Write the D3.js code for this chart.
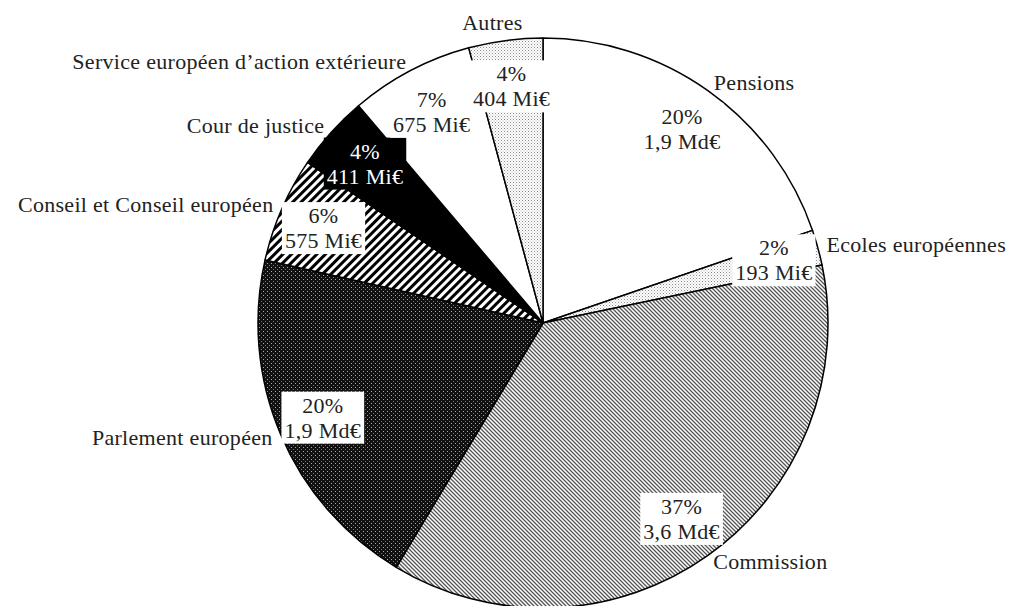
<!DOCTYPE html>
<html>
<head>
<meta charset="utf-8">
<script src="https://cdn.jsdelivr.net/npm/d3@7"></script>
<style>
  body { margin: 0; background: #fff; }
  text { font-family: "Liberation Serif", serif; font-size: 22px; letter-spacing: 0.3px; fill: #222; }
</style>
</head>
<body>
<div id="chart"></div>
<script>
// budget by institution, in Mi€
const categories = ["Pensions", "Ecoles européennes", "Commission", "Parlement européen",
  "Conseil et Conseil européen", "Cour de justice", "Service européen d’action extérieure", "Autres"];
const amounts = [1900, 193, 3550, 1920, 575, 411, 675, 404];
const pctLabels = ["20%", "2%", "37%", "20%", "6%", "4%", "7%", "4%"];
const amountLabels = ["1,9 Md€", "193 Mi€", "3,6 Md€", "1,9 Md€", "575 Mi€", "411 Mi€", "675 Mi€", "404 Mi€"];

const width = 1013;
const height = 606;
const radius = 285;
const cx = 543, cy = 323;

const fills = ["#fff", "url(#dots)", "url(#fine)", "url(#darkdots)", "url(#wide)", "#000", "#fff", "url(#dots)"];

const svg = d3.select("#chart")
  .append("svg")
  .attr("width", width)
  .attr("height", height);

const defs = svg.append("defs");

// light stipple
const dots = defs.append("pattern").attr("id", "dots")
  .attr("patternUnits", "userSpaceOnUse").attr("width", 3).attr("height", 3);
dots.append("rect").attr("width", 3).attr("height", 3).attr("fill", "#fff");
dots.append("rect").attr("width", 1).attr("height", 1).attr("fill", "#8a8a8a");
dots.append("rect").attr("x", 1.5).attr("y", 1.5).attr("width", 1).attr("height", 1).attr("fill", "#b0b0b0");

// fine "\" hatch
const fine = defs.append("pattern").attr("id", "fine")
  .attr("patternUnits", "userSpaceOnUse").attr("width", 4).attr("height", 4);
fine.append("rect").attr("width", 4).attr("height", 4).attr("fill", "#fff");
fine.append("path").attr("d", "M-1,-1L5,5M-1,3L1,5M3,-1L5,1")
  .attr("stroke", "#555").attr("stroke-width", 1.3);

// dark background with light dots
const darkdots = defs.append("pattern").attr("id", "darkdots")
  .attr("patternUnits", "userSpaceOnUse").attr("width", 4).attr("height", 4);
darkdots.append("rect").attr("width", 4).attr("height", 4).attr("fill", "#111");
darkdots.append("rect").attr("width", 1).attr("height", 1).attr("fill", "#aaa");
darkdots.append("rect").attr("x", 2).attr("y", 2).attr("width", 1).attr("height", 1).attr("fill", "#777");

// wide "/" hatch
const wide = defs.append("pattern").attr("id", "wide")
  .attr("patternUnits", "userSpaceOnUse").attr("width", 6).attr("height", 6)
  .attr("patternTransform", "rotate(45)");
wide.append("rect").attr("width", 6).attr("height", 6).attr("fill", "#fff");
wide.append("rect").attr("width", 3).attr("height", 6).attr("fill", "#000");

const g = svg.append("g")
  .attr("transform", `translate(${cx},${cy})`);

const pie = d3.pie().sort(null).value(d => d)
  .startAngle(0).endAngle(2 * Math.PI);
const arcs = pie(amounts);

const arc = d3.arc().innerRadius(0).outerRadius(radius);

g.selectAll(".slice")
  .data(arcs)
  .enter().append("path")
  .attr("class", "slice")
  .attr("d", arc)
  .attr("fill", (d, i) => fills[i])
  .attr("stroke", "#000")
  .attr("stroke-width", 1.5)
  .attr("stroke-linejoin", "round");

function polar(a, r) {
  return [r * Math.sin(a), -r * Math.cos(a)];
}
const mid = d => (d.startAngle + d.endAngle) / 2;

// inner labels (percent + amount on a box)
const inner = g.selectAll(".inner")
  .data(arcs)
  .enter().append("g")
  .attr("class", "inner")
  .attr("transform", d => `translate(${polar(mid(d), radius * 0.84)})`);

inner.append("rect");

inner.append("text")
  .attr("text-anchor", "middle")
  .attr("y", -12)
  .attr("dy", "0.35em")
  .style("fill", (d, i) => i === 5 ? "#fff" : "#222")
  .text((d, i) => pctLabels[i]);

inner.append("text")
  .attr("text-anchor", "middle")
  .attr("y", 13)
  .attr("dy", "0.35em")
  .style("fill", (d, i) => i === 5 ? "#fff" : "#222")
  .text((d, i) => amountLabels[i]);

inner.each(function(d, i) {
  const grp = d3.select(this);
  const texts = grp.selectAll("text").nodes().map(n => n.getBBox());
  const x0 = d3.min(texts, b => b.x) - 3;
  const x1 = d3.max(texts, b => b.x + b.width) + 3;
  const y0 = d3.min(texts, b => b.y) - 1;
  const y1 = d3.max(texts, b => b.y + b.height) + 1;
  grp.select("rect")
    .attr("x", x0).attr("y", y0)
    .attr("width", x1 - x0).attr("height", y1 - y0)
    .attr("fill", i === 5 ? "#000" : "#fff");
});

// outer category labels
g.selectAll(".outer")
  .data(arcs)
  .enter().append("text")
  .attr("class", "outer")
  .each(function(d) {
    const a = mid(d);
    const [x, y] = polar(a, radius + 9);
    const s = Math.sin(a);
    const anchor = s > 0.2 ? "start" : s < -0.2 ? "end" : "middle";
    d3.select(this)
      .attr("x", anchor === "middle" ? x - 12 : x)
      .attr("y", anchor === "middle" ? y - 8 : y)
      .attr("dy", "0.3em")
      .attr("text-anchor", anchor);
  })
  .text((d, i) => categories[i]);
</script>
</body>
</html>
